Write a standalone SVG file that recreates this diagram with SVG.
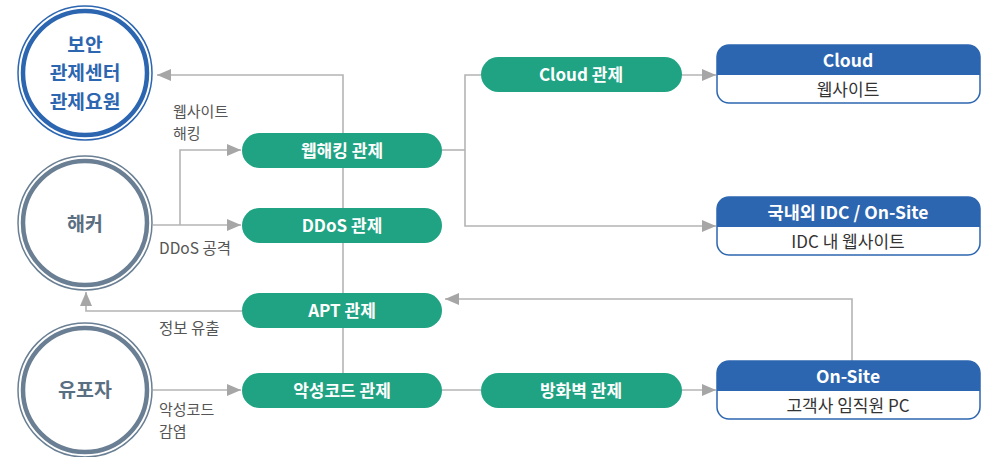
<svg xmlns="http://www.w3.org/2000/svg" width="989" height="457" viewBox="0 0 989 457">
<defs>
<marker id="arrB" viewBox="0 0 14 12" refX="14" refY="6" markerWidth="14" markerHeight="12" markerUnits="userSpaceOnUse" orient="auto">
<path d="M0,0 L14,6 L0,12 z" fill="#a6a6a6"/>
</marker>
</defs>
<style>
text{font-family:"Noto Sans CJK KR","Noto Sans",sans-serif}
.ln{fill:none;stroke:#b4b4b4;stroke-width:1.6}
.pill{fill:#1fa383}
.pt{fill:#fff;font-size:17px;font-weight:bold;text-anchor:middle}
.lbl{fill:#555;font-size:15.5px}
.lbl2{fill:#555;font-size:15px}
.hd{fill:#2d66b0}
.bx{fill:#fff;stroke:#2d66b0;stroke-width:1.5}
.ht{fill:#fff;font-size:17.5px;font-weight:bold;text-anchor:middle}
.bt{fill:#333;font-size:17px;text-anchor:middle}
.ct{font-size:19.5px;font-weight:bold;text-anchor:middle}
.ct3{font-size:19.2px;font-weight:bold;text-anchor:middle}
</style>
<rect width="989" height="457" fill="#fff"/>
<g id="connectors">
<polyline class="ln" points="343,373 343,75 157,75" marker-end="url(#arrB)"/>
<line class="ln" x1="153" y1="225" x2="241" y2="225" marker-end="url(#arrB)"/>
<polyline class="ln" points="180,225 180,150 241,150" marker-end="url(#arrB)"/>
<polyline class="ln" points="242,311 86,311 86,292" marker-end="url(#arrB)"/>
<line class="ln" x1="153" y1="390" x2="241" y2="390" marker-end="url(#arrB)"/>
<polyline class="ln" points="442,150 465,150"/>
<polyline class="ln" points="481,75 465,75 465,226 716,226" marker-end="url(#arrB)"/>
<line class="ln" x1="682" y1="75" x2="716" y2="75" marker-end="url(#arrB)"/>
<line class="ln" x1="442" y1="390" x2="481" y2="390"/>
<line class="ln" x1="682" y1="390" x2="716" y2="390" marker-end="url(#arrB)"/>
<polyline class="ln" points="852,361 852,299 445,299" marker-end="url(#arrB)"/>
</g>
<g id="label-web">
<text class="lbl2"><tspan x="173" y="116.5">웹사이트</tspan><tspan x="173" y="138.5">해킹</tspan></text>
</g>
<g id="label-ddos"><text class="lbl" x="159" y="253.5">DDoS 공격</text></g>
<g id="label-leak"><text class="lbl" x="159" y="334">정보 유출</text></g>
<g id="label-mal">
<text class="lbl2"><tspan x="159" y="414.5">악성코드</tspan><tspan x="159" y="436.5">감염</tspan></text>
</g>
<g id="soc">
<circle cx="85" cy="73" r="67" fill="#fff" stroke="#2d66b0" stroke-width="1.5"/>
<circle cx="85" cy="73" r="62" fill="none" stroke="#2d66b0" stroke-width="4.5"/>
<text class="ct3" fill="#2d66b0"><tspan x="85" y="51.5">보안</tspan><tspan x="85" y="80">관제센터</tspan><tspan x="85" y="108.5">관제요원</tspan></text>
</g>
<g id="hacker">
<circle cx="85" cy="223" r="67" fill="#fff" stroke="#6a7f93" stroke-width="1.5"/>
<circle cx="85" cy="223" r="62" fill="none" stroke="#6a7f93" stroke-width="4.5"/>
<text class="ct" x="85" y="231" fill="#5b6f82">해커</text>
</g>
<g id="distributor">
<circle cx="85" cy="390" r="67" fill="#fff" stroke="#6a7f93" stroke-width="1.5"/>
<circle cx="85" cy="390" r="62" fill="none" stroke="#6a7f93" stroke-width="4.5"/>
<text class="ct" x="85" y="397" fill="#5b6f82">유포자</text>
</g>
<g id="web-mon">
<rect class="pill" x="242" y="133" width="200" height="35" rx="17.5"/>
<text class="pt" x="342" y="157">웹해킹 관제</text>
</g>
<g id="ddos-mon">
<rect class="pill" x="242" y="208" width="200" height="35" rx="17.5"/>
<text class="pt" x="342" y="232">DDoS 관제</text>
</g>
<g id="apt-mon">
<rect class="pill" x="242" y="293" width="200" height="35" rx="17.5"/>
<text class="pt" x="342" y="317">APT 관제</text>
</g>
<g id="mal-mon">
<rect class="pill" x="242" y="373" width="200" height="35" rx="17.5"/>
<text class="pt" x="342" y="397">악성코드 관제</text>
</g>
<g id="cloud-mon">
<rect class="pill" x="481" y="57" width="201" height="35" rx="17.5"/>
<text class="pt" x="581" y="81">Cloud 관제</text>
</g>
<g id="fw-mon">
<rect class="pill" x="481" y="373" width="201" height="35" rx="17.5"/>
<text class="pt" x="581" y="397">방화벽 관제</text>
</g>
<g id="cloud-box">
<rect class="bx" x="717" y="45" width="263" height="58" rx="12"/>
<path class="hd" d="M717,75 V57 a12,12 0 0 1 12,-12 H968 a12,12 0 0 1 12,12 V75 z"/>
<text class="ht" x="848" y="66.5">Cloud</text>
<text class="bt" x="848" y="95.5">웹사이트</text>
</g>
<g id="idc-box">
<rect class="bx" x="717" y="197" width="263" height="58" rx="12"/>
<path class="hd" d="M717,227 V209 a12,12 0 0 1 12,-12 H968 a12,12 0 0 1 12,12 V227 z"/>
<text class="ht" x="848" y="218.5">국내외 IDC / On-Site</text>
<text class="bt" x="848" y="247.5">IDC 내 웹사이트</text>
</g>
<g id="onsite-box">
<rect class="bx" x="717" y="361" width="263" height="58" rx="12"/>
<path class="hd" d="M717,391 V373 a12,12 0 0 1 12,-12 H968 a12,12 0 0 1 12,12 V391 z"/>
<text class="ht" x="848" y="382.5">On-Site</text>
<text class="bt" x="848" y="411.5">고객사 임직원 PC</text>
</g>
</svg>
